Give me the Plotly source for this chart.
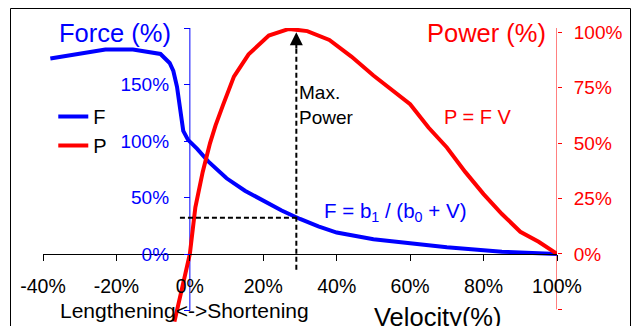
import plotly.graph_objects as go

# ---- data ----
velocity_f = [-38, -23, -15.5, -8, -5.5, -4.5, -3.5, -2.7, -1.8, -0.5, 2, 5, 10, 15, 20, 25, 30, 35, 40, 50, 60, 70, 85, 100]
force_pct = [173, 181, 181, 177, 169, 162, 148, 127, 109, 101, 93, 82, 67, 56, 47, 38.5, 31, 24.5, 19, 13, 9.5, 6, 2, 0]

velocity_p = [-4.2, 0, 1.5, 3.5, 5.5, 7, 9, 12, 16, 21.5, 27, 32, 38, 44, 50, 55, 60, 65, 70, 75, 80, 85, 90, 95, 100]
power_pct = [-30.5, 0, 21, 37, 50, 58, 67, 80, 90, 98.5, 101.5, 100.5, 96.5, 89, 80.5, 74, 67.5, 57, 48, 37, 27, 18, 10, 5.5, 0]

x_ticks = [-40, -20, 0, 20, 40, 60, 80, 100]
x_ticktext = [f"{v}%" for v in x_ticks]
force_ticks = [-50, 0, 50, 100, 150, 200]
force_ticktext = ["", "0%", "50%", "100%", "150%", ""]
power_ticks = [-25, 0, 25, 50, 75, 100]
power_ticktext = ["", "0%", "25%", "50%", "75%", "100%"]

max_power_v = 29
max_power_f = 32

FONT = "Liberation Sans, Arial, sans-serif"
BLUE = "#0000FF"
RED = "#FF0000"

fig = go.Figure()
fig.add_trace(go.Scatter(x=velocity_f, y=force_pct, mode="lines", name="F",
                         line=dict(color=BLUE, width=4), yaxis="y"))
fig.add_trace(go.Scatter(x=velocity_p, y=power_pct, mode="lines", name="P",
                         line=dict(color=RED, width=4), yaxis="y2"))

W, H = 639, 326
L, R, T, B = 43, 82, 28, 0
ph = H - T - B
pw = W - L - R

def px_x(px):
    return (px - L) / pw

def py(px):
    return (H - px) / ph

fig.update_layout(
    width=W, height=H,
    margin=dict(l=L, r=R, t=T, b=B, pad=0),
    paper_bgcolor="white", plot_bgcolor="white",
    font=dict(family=FONT, size=19, color="black"),
    showlegend=True,
    legend=dict(x=0.02, y=py(97), xanchor="left", yanchor="top",
                font=dict(size=20, color="black"), bgcolor="rgba(0,0,0,0)",
                borderwidth=0),
    xaxis=dict(range=[-40, 100], tickvals=x_ticks, ticktext=x_ticktext,
               showgrid=False, zeroline=False, showline=True, linecolor="#000", linewidth=1,
               ticks="outside", ticklen=6, tickcolor="#000", tickwidth=1,
               anchor="free", position=py(254),
               ticklabelstandoff=9,
               tickfont=dict(size=19.5, color="black")),
    yaxis=dict(range=[-63.7, 200], tickvals=force_ticks, ticktext=force_ticktext,
               showgrid=False, zeroline=False, showline=False,
               ticks="outside", ticklen=6, tickcolor=BLUE, tickwidth=1,
               anchor="free", position=40 / 140, side="left",
               ticklabelstandoff=11,
               tickfont=dict(size=19, color=BLUE)),
    yaxis2=dict(range=[-32.5, 101.9], tickvals=power_ticks, ticktext=power_ticktext,
                overlaying="y", side="right", anchor="x",
                showgrid=False, zeroline=False, showline=False,
                ticks="outside", ticklen=4, tickcolor=RED, tickwidth=1,
                ticklabelstandoff=8,
                tickfont=dict(size=19, color=RED)),
)

shapes = [
    # chart border
    dict(type="rect", xref="paper", yref="paper",
         x0=px_x(10.5), x1=px_x(630.5), y0=-0.2, y1=py(8.5),
         line=dict(color="#000", width=1), layer="above"),
    # left (force) axis line
    dict(type="line", xref="x", yref="y", x0=0, x1=0, y0=-50, y1=200,
         line=dict(color=BLUE, width=1), layer="below"),
    # right (power) axis line
    dict(type="line", xref="x", yref="y2", x0=100, x1=100, y0=-25, y1=101.9,
         line=dict(color=RED, width=1), layer="below"),
    # dashed horizontal guide
    dict(type="line", xref="x", yref="y", x0=-2.7, x1=max_power_v, y0=max_power_f, y1=max_power_f,
         line=dict(color="black", width=2, dash="5px,3px")),
    # dashed vertical guide
    dict(type="line", xref="x", yref="y", x0=max_power_v, x1=max_power_v, y0=-14, y1=184,
         line=dict(color="black", width=2, dash="5px,3px")),
]
fig.update_layout(shapes=shapes)

annotations = [
    dict(text="Force (%)", xref="paper", yref="paper", x=px_x(115), y=py(33),
         showarrow=False, font=dict(size=25.5, color=BLUE), xanchor="center", yanchor="middle"),
    dict(text="Power (%)", xref="paper", yref="paper", x=px_x(486), y=py(33),
         showarrow=False, font=dict(size=25.5, color=RED), xanchor="center", yanchor="middle"),
    dict(text="Velocity(%)", xref="paper", yref="paper", x=px_x(438), y=py(317),
         showarrow=False, font=dict(size=25.5, color="black"), xanchor="center", yanchor="middle"),
    dict(text="Lengthening<->Shortening", xref="paper", yref="paper", x=px_x(184.5), y=py(310),
         showarrow=False, font=dict(size=21, color="black"), xanchor="center", yanchor="middle"),
    dict(text="Max.<br>Power", xref="x", yref="y", x=max_power_v + 0.3, y=132,
         showarrow=False, font=dict(size=19, color="black"), xanchor="left", yanchor="middle", align="left"),
    dict(text="P = F V", xref="x", yref="y", x=78.5, y=121,
         showarrow=False, font=dict(size=20, color=RED), xanchor="center", yanchor="middle"),
    dict(text="F = b<sub>1</sub> / (b<sub>0</sub> + V)", xref="x", yref="y", x=55.8, y=37,
         showarrow=False, font=dict(size=20.5, color=BLUE), xanchor="center", yanchor="middle"),
    # arrow head of the max power guide
    dict(text="", xref="x", yref="y2", x=max_power_v, y=100, axref="x", ayref="y2",
         ax=max_power_v, ay=92, showarrow=True, arrowhead=2, arrowsize=1.3, arrowwidth=2,
         arrowcolor="black", standoff=0),
]
fig.update_layout(annotations=annotations)

fig.write_html("out.html", config={"displayModeBar": False},
               post_script="document.body.style.margin='0';document.body.style.padding='0';")
